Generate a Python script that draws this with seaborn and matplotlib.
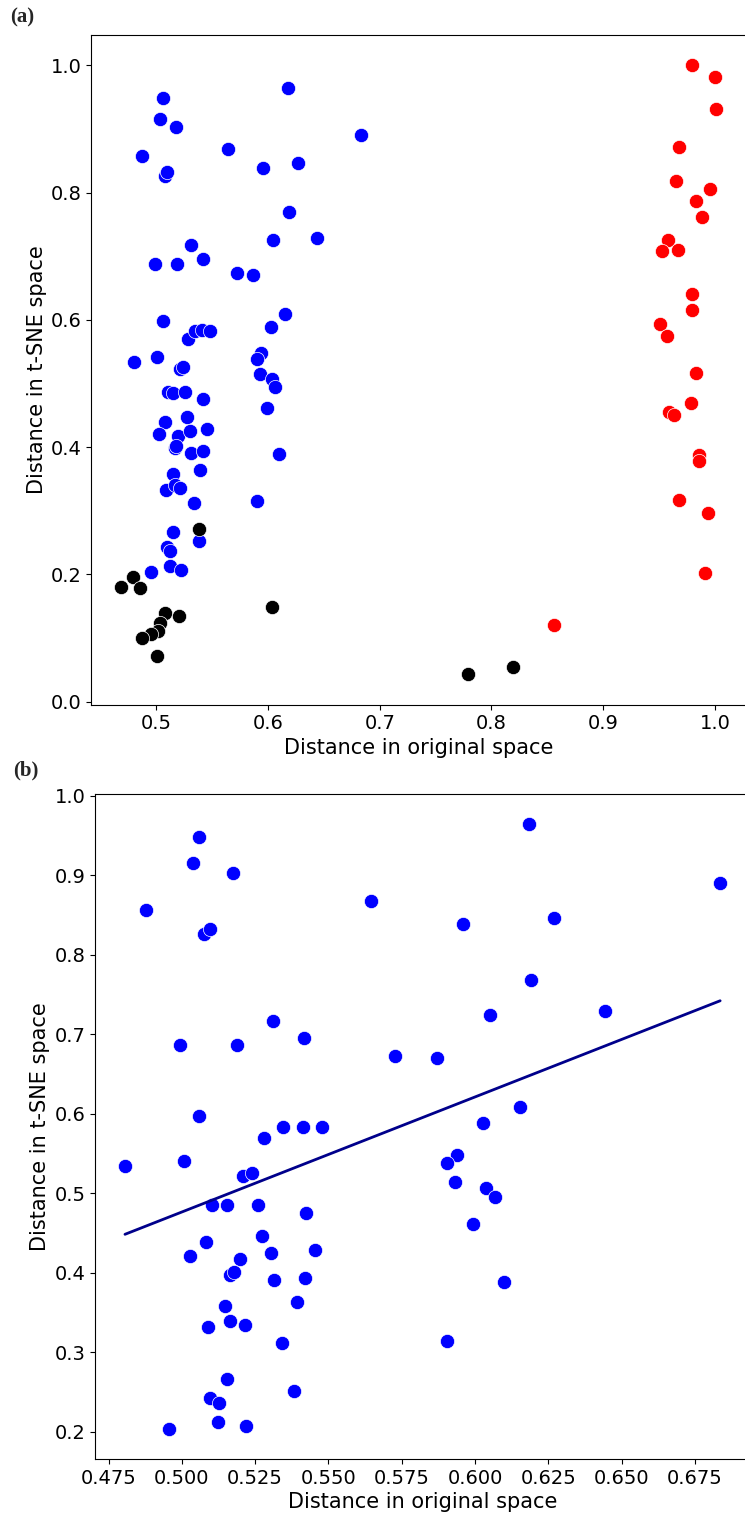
import matplotlib
matplotlib.use("Agg")
import matplotlib.pyplot as plt
import seaborn as sns
import pandas as pd
import numpy as np

# ---- data ----
blue_x = [0.5059, 0.5039, 0.5174, 0.4877, 0.5077, 0.5096, 0.5644, 0.5310, 0.4992, 0.5189,
          0.5417, 0.5726, 0.6184, 0.5960, 0.6270, 0.6836, 0.6190, 0.6050, 0.6442, 0.5870,
          0.6155, 0.5059, 0.4806, 0.5008, 0.5281, 0.5346, 0.5413, 0.5478, 0.5210, 0.5240,
          0.5103, 0.5153, 0.5261, 0.5424, 0.5084, 0.5027, 0.5273, 0.5200, 0.5304, 0.5455,
          0.5165, 0.5178, 0.5314, 0.5420, 0.5393, 0.5147, 0.5090, 0.5165, 0.5215, 0.5343,
          0.5154, 0.5382, 0.5097, 0.5127, 0.5122, 0.5219, 0.4955, 0.6027, 0.5939, 0.5906,
          0.5930, 0.6036, 0.6068, 0.5993, 0.6100, 0.5903]
blue_y = [0.948, 0.916, 0.903, 0.857, 0.826, 0.833, 0.868, 0.717, 0.687, 0.687,
          0.695, 0.673, 0.965, 0.839, 0.847, 0.891, 0.769, 0.725, 0.729, 0.671,
          0.609, 0.598, 0.534, 0.541, 0.570, 0.583, 0.584, 0.583, 0.522, 0.526,
          0.486, 0.485, 0.486, 0.476, 0.439, 0.421, 0.447, 0.417, 0.425, 0.429,
          0.398, 0.401, 0.391, 0.394, 0.364, 0.358, 0.332, 0.340, 0.335, 0.312,
          0.267, 0.252, 0.243, 0.237, 0.213, 0.207, 0.204, 0.588, 0.548, 0.538,
          0.515, 0.507, 0.495, 0.462, 0.389, 0.315]

red_x = [0.9794, 1.0003, 1.0010, 0.9675, 0.9650, 0.9950, 0.9830, 0.9886, 0.9582, 0.9523,
         0.9665, 0.9794, 0.9794, 0.9508, 0.9568, 0.9826, 0.9782, 0.9591, 0.9630, 0.9859,
         0.9859, 0.9680, 0.9940, 0.9910, 0.8560]
red_y = [1.000, 0.982, 0.931, 0.871, 0.818, 0.805, 0.787, 0.762, 0.725, 0.708,
         0.709, 0.640, 0.616, 0.594, 0.575, 0.516, 0.470, 0.455, 0.450, 0.387,
         0.378, 0.317, 0.296, 0.202, 0.120]

black_x = [0.5382, 0.4794, 0.4687, 0.4854, 0.5083, 0.5208, 0.5036, 0.5015, 0.4953, 0.4877,
           0.5006, 0.6040, 0.7793, 0.8193]
black_y = [0.272, 0.196, 0.180, 0.178, 0.139, 0.135, 0.124, 0.111, 0.106, 0.100,
           0.072, 0.149, 0.043, 0.054]

xlabel = "Distance in original space"
ylabel = "Distance in t-SNE space"
panel_labels = ["(a)", "(b)"]

# ---- figure ----
sns.set_style("ticks")
plt.rcParams["font.family"] = ["DejaVu Sans"]
plt.rcParams["axes.edgecolor"] = "black"
plt.rcParams["xtick.major.size"] = 3.5
plt.rcParams["ytick.major.size"] = 3.5

fig = plt.figure(figsize=(7.45, 15.13), dpi=100)
ax1 = fig.add_axes([0.1226, 0.5342, 0.8787, 0.4428])
ax2 = fig.add_axes([0.1278, 0.0357, 0.8788, 0.4398])

dfb = pd.DataFrame({"x": blue_x, "y": blue_y})
dfr = pd.DataFrame({"x": red_x, "y": red_y})
dfk = pd.DataFrame({"x": black_x, "y": black_y})

kw = dict(s=105, edgecolor="white", linewidth=0.5)
sns.scatterplot(data=dfb, x="x", y="y", color="#0000ff", ax=ax1, **kw)
sns.scatterplot(data=dfr, x="x", y="y", color="#ff0000", ax=ax1, **kw)
sns.scatterplot(data=dfk, x="x", y="y", color="#000000", ax=ax1, **kw)

sns.scatterplot(data=dfb, x="x", y="y", color="#0000ff", ax=ax2, **kw)
sns.regplot(data=dfb, x="x", y="y", scatter=False, ci=None, ax=ax2,
            line_kws=dict(color="#00008b", linewidth=2))

ax1.set_yticks([0.0, 0.2, 0.4, 0.6, 0.8, 1.0])
ax1.set_xticks([0.5, 0.6, 0.7, 0.8, 0.9, 1.0])
ax2.set_xticks([0.475, 0.5, 0.525, 0.55, 0.575, 0.6, 0.625, 0.65, 0.675])
ax2.set_yticks([0.2, 0.3, 0.4, 0.5, 0.6, 0.7, 0.8, 0.9, 1.0])

for ax in (ax1, ax2):
    ax.margins(0.05)
    ax.set_xlabel(xlabel, fontsize=15, color="black", labelpad=3)
    ax.set_ylabel(ylabel, fontsize=15, color="black", labelpad=3)
    ax.tick_params(labelsize=14, colors="black", width=0.8)
    for sp in ax.spines.values():
        sp.set_visible(True)
        sp.set_linewidth(0.8)
        sp.set_color("black")

fig.text(10 / 745, 1 - 17 / 1513, panel_labels[0], fontsize=15, fontweight="bold",
         family="Liberation Serif", va="center", ha="left")
fig.text(13 / 745, 1 - 770 / 1513, panel_labels[1], fontsize=15, fontweight="bold",
         family="Liberation Serif", va="center", ha="left")

fig.savefig("out.png", dpi=100)
